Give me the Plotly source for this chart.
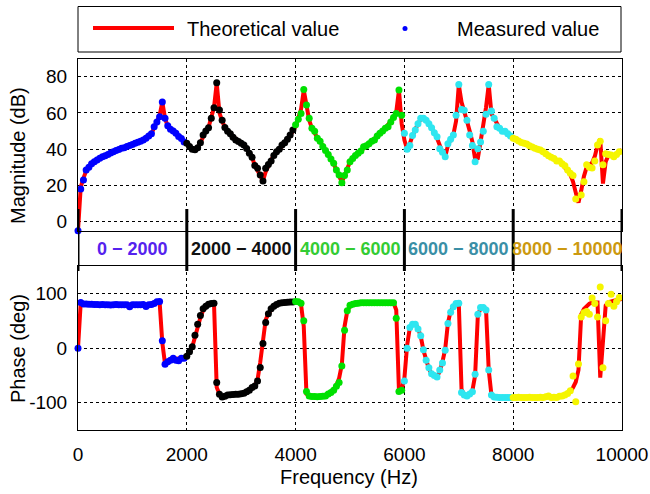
import plotly.graph_objects as go

# ---------------- data ----------------
band_edges = [0, 2000, 4000, 6000, 8000, 10000]
band_labels = ["0 − 2000", "2000 − 4000", "4000 − 6000", "6000 − 8000", "8000 − 10000"]
band_label_colors = ["#5522ee", "#111111", "#33cc33", "#3a8fa6", "#cc9910"]
meas_colors = ["#0000ff", "#000000", "#00e000", "#2ee6f0", "#f5f500"]

step_hz = 50
freq_theory = [i * step_hz for i in range(201)]   # 0 ... 10000 Hz
freq_meas = [i * step_hz for i in range(200)]     # 0 ... 9950 Hz

mag_theory = [
    # 0 - 1950
    -5, 19, 24, 28, 30, 31.8, 33, 34, 35, 35.7, 36.3, 37, 37.8, 38.6, 39.2, 39.8, 40.4, 41, 41.5, 42,
    42.5, 43.2, 43.8, 44.4, 45, 46, 46.8, 48.5, 51.5, 54.5, 58.5, 66, 57, 52.5, 51.2, 50, 48.7, 47.4, 45.9, 44.3,
    # 2000 - 3950
    43, 41.5, 40.2, 39.8, 40.6, 43.5, 47.5, 50, 52, 57, 63, 76.5, 60, 55.5, 52, 50, 48.5, 46.5, 45.3, 44.2,
    43.2, 42, 40.3, 38, 35.5, 31, 28, 25.5, 22.5, 27.5, 31.5, 34, 36.5, 38.6, 40, 41.5, 43.5, 45.5, 47.8, 49.8,
    # 4000 - 5950
    52.5, 56.5, 62, 72.5, 63, 56, 51.5, 48.5, 46.3, 44.3, 42, 39.6, 37.3, 34.6, 32, 28.5, 25, 21.8, 25.5, 29.5,
    33, 34.8, 36.5, 37.7, 39, 40.7, 41.8, 43, 44.3, 45.5, 47.2, 48.7, 50, 51.5, 53.5, 55, 57.5, 60.5, 72.5, 54,
    # 6000 - 7950
    45, 40, 43, 47.5, 51, 54, 56.5, 57, 56.2, 54, 51.8, 49, 46, 42, 38.3, 35.8, 42, 45.5, 48, 55.5,
    75.5, 66, 61.5, 55.5, 50, 44, 34.5, 35, 44, 52.5, 63, 75.5, 59.5, 57, 54, 51.5, 50.5, 49.8, 48.5, 47,
    # 8000 - 10000
    46, 45.3, 44.5, 43.7, 43, 42.5, 41.8, 41, 40.5, 40, 39.3, 38.5, 37.5, 36.5, 35.7, 34.8, 34, 33, 31.5, 30,
    28, 26, 22, 16, 10.5, 17, 25, 30, 31, 32.5, 36, 42, 45.5, 21, 33, 36.5, 37, 36.5, 37.5, 38.5, 39.5,
]

phase_theory = [
    # 0 - 1950
    0, 83, 82, 81.5, 81, 80.5, 80, 80, 79.5, 79.5, 79.5, 79.5, 79.5, 79.5, 79.5, 79.5, 79.5, 79.5, 79.5, 79.5,
    79.5, 79.5, 79.5, 79.5, 79.5, 79.5, 79.5, 80, 81.5, 84, 85, 10, -29, -25, -22, -20.5, -19.5, -19, -18.5, -18,
    # 2000 - 3950
    -15, -7, 2, 20, 40, 56, 69, 76, 80.5, 82, 82.5, -72, -84, -88, -88, -87, -86, -85.5, -85, -84.5,
    -83.5, -82.5, -80.5, -78, -74, -69, -58, -26, 12, 52, 63, 72, 77.5, 80, 82, 83, 83.5, 84, 84.5, 85,
    # 4000 - 5950
    85.5, 85, 80, 40, -84, -87.5, -88.5, -89, -89, -88.5, -88, -86, -83.5, -80, -76, -68, -55, -30, 40, 68,
    77, 80, 81.5, 82.5, 83, 83, 83, 83, 83, 83, 83, 83, 83, 83, 83, 83, 83, 70, -78, -76,
    # 6000 - 7950
    -55, 5, 38, 45, 45, 36, 22, -4, -24, -38, -46.8, -51, -52, -43, -25, -2, 46, 68, 76, 80,
    82, -75, -86, -87.5, -85, -78, -50, 60, 73, 75, 72, -40, -86, -89, -90, -90.5, -90.5, -90.5, -90.5, -90.5,
    # 8000 - 10000
    -90.5, -90.5, -90.5, -90.5, -90.5, -90.5, -90.5, -90.5, -90.5, -90.5, -90.5, -90.5, -90.5, -90, -89.5,
    -89, -88.5, -88, -87, -85.5, -83.5, -80, -72, -62, -40, 62, 72, 78, 81.5, 83.5, 84, 83.5, -54, 5, 78,
    84, 86, 87, 88, 89, 90,
]

mag_meas = [
    # 0 - 1950
    -5, 18, 23, 28.5, 30, 32, 33, 34, 35, 35.8, 36.3, 37, 37.8, 38.6, 39.2, 39.8, 40.5, 40.8, 41.5, 42,
    42.6, 43.2, 43.8, 44.4, 45, 46, 47.3, 48.5, 52.3, 55, 57.9, 66, 57, 52.9, 51, 50, 48.7, 47, 45.8, 44,
    # 2000 - 3950
    43.2, 41.5, 39.9, 39.6, 40.8, 43.5, 47.8, 50, 51.8, 57, 62.8, 76.6, 61.6, 56, 52, 49.8, 48.5, 46.5, 45, 44.2,
    43.2, 42.3, 40.3, 37.7, 35.5, 31, 29.4, 25.7, 22.4, 29.4, 31.5, 33.4, 36.5, 38.6, 40, 42.3, 43.5, 45.5, 47.8, 50.6,
    # 4000 - 5950
    53.4, 56.5, 59.7, 72.9, 64.3, 57, 51.5, 49.8, 46, 44.3, 41.5, 39.2, 37, 34.5, 32.2, 28.5, 25.7, 21.5, 25.5, 28.5,
    33, 34.8, 36.5, 37.7, 39, 41.3, 41.8, 43, 44.3, 45, 47.2, 48.7, 50, 51.5, 52.3, 55, 57.5, 59.7, 72.6, 58.7,
    # 6000 - 7950
    48.7, 40, 42, 47.5, 50.5, 54, 57, 57, 56, 54, 51.8, 49, 46.8, 40.2, 38.3, 35.8, 43, 45.5, 47.8, 58.7,
    75.7, 61.9, 61.5, 56, 47.8, 42, 33.1, 40.2, 44, 49.8, 59.2, 75.7, 61, 57, 52.3, 51.5, 49.8, 49.8, 48.5, 47.3,
    # 8000 - 9950
    46, 45.5, 44.5, 43.7, 43.2, 42.8, 41.8, 41.2, 40.5, 40, 39.5, 38.5, 37.5, 36.4, 35.5, 34.8, 33.5, 33.4, 32, 30.9,
    28.5, 26.7, 25.4, 12.5, -5.5, 14.7, 22, 31.4, 30, 29.6, 33.4, 42.3, 44.4, 31.4, 37.5, 37, 36.7, 35.8, 37, 38.6,
]

phase_meas = [
    # 0 - 1950
    0, 83.7, 81, 81, 80.5, 80.5, 80, 80, 79.5, 80, 79.5, 79.5, 79, 79.5, 80, 79.5, 79.5, 79.5, 79.5, 76,
    79.5, 79.5, 79.5, 79.5, 80, 76.5, 79.5, 80, 82, 85, 85.5, 13.4, -29.4, -25, -22, -18.4, -22, -23, -18.4, -18.4,
    # 2000 - 3950
    -15, -6.8, 2.4, 23.8, 44, 60, 72, 77, 80.6, 82, 82.4, -63, -84.5, -89.3, -88, -86, -85.6, -85, -84.5, -84.5,
    -83.5, -82.7, -80, -77, -72, -69.2, -60, -35.6, 8.4, 47, 63, 72, 77, 80, 82.4, 83, 83.6, 84, 84.8, 84.8,
    # 4000 - 5950
    85.4, 85, 82.4, 50, -79.6, -87.6, -88.5, -88.8, -89, -88.8, -88, -87.6, -84, -81.5, -77, -70, -63, -32.5, 33, 68.4,
    78.7, 80.5, 82, 82.4, 83, 83, 83, 83, 83, 83, 83, 83, 83, 83, 83, 83, 83, 55, -79.6, -77,
    # 6000 - 7950
    -60, 0, 38, 44, 44, 35, 22.6, -3, -22, -36, -46.8, -50, -52.7, -40, -27, -4, 45, 66, 75.7, 81.8,
    82.4, -81.5, -86, -87.6, -84, -80, -48, 62, 74.6, 74.6, 70, -40, -86, -89.3, -90, -90.5, -90.5, -90.5, -90.5, -90.5,
    # 8000 - 9950
    -90.5, -90.5, -90, -90.5, -90.5, -90.5, -90, -90.5, -90.5, -90.5, -90, -90.5, -89, -87.6, -90.5, -90, -90.5, -88, -87.6, -86,
    -83, -78, -51, -98, -29, 57, 65, 67, 62, 92, 82, 57, 112, -36, 50, 82, 99, 77, 85, 93,
]

mag_ticks = [0, 20, 40, 60, 80]
phase_ticks = [-100, 0, 100]
phase_tick_text = ["-100", "0", "100"]
freq_ticks = [0, 2000, 4000, 6000, 8000, 10000]
freq_tick_text = ["0", "2000", "4000", "6000", "8000", "10000"]

# ---------------- geometry ----------------
W, H = 650, 494
L_PX, R_PX = 78, 622          # plot area in page pixels
PW = R_PX - L_PX


def py(p):
    """page y pixel -> paper fraction"""
    return (H - p) / H


def px(p):
    """page x pixel -> paper fraction (plot area)"""
    return (p - L_PX) / PW


FONT = "Liberation Sans, Arial, Helvetica, sans-serif"

fig = go.Figure()

pts_per_band = len(freq_meas) // (len(band_edges) - 1)

for xa, ya, th, me in [("x", "y", mag_theory, mag_meas), ("x2", "y2", phase_theory, phase_meas)]:
    fig.add_trace(go.Scatter(
        x=freq_theory, y=th, mode="lines", xaxis=xa, yaxis=ya,
        line=dict(color="#ff0000", width=4), name="Theoretical value", showlegend=False,
    ))
    for b in range(len(band_edges) - 1):
        s = slice(b * pts_per_band, (b + 1) * pts_per_band)
        fig.add_trace(go.Scatter(
            x=freq_meas[s], y=me[s], mode="markers", xaxis=xa, yaxis=ya,
            marker=dict(color=meas_colors[b], size=7, line=dict(width=0)),
            name="Measured value", showlegend=False, cliponaxis=False,
        ))

axis_common = dict(
    showline=True, mirror=True, linecolor="black", linewidth=1,
    showgrid=True, gridcolor="black", griddash="dot", gridwidth=1,
    zeroline=False, ticks="", tickfont=dict(family=FONT, size=19, color="black"),
)

fig.update_layout(
    width=W, height=H,
    margin=dict(l=L_PX, r=W - R_PX, t=0, b=0, autoexpand=False),
    paper_bgcolor="white", plot_bgcolor="white",
    showlegend=False,
    xaxis=dict(domain=[0, 1], range=[0, 10000], tickvals=freq_ticks, showticklabels=False,
               anchor="y", **axis_common),
    yaxis=dict(domain=[py(230.7), py(58.5)], range=[-5, 90], tickvals=mag_ticks,
               ticklabelstandoff=6, anchor="x", **axis_common),
    xaxis2=dict(domain=[0, 1], range=[0, 10000], tickvals=freq_ticks, ticktext=freq_tick_text,
                anchor="y2", ticklabelstandoff=7, **axis_common),
    yaxis2=dict(domain=[py(430), py(266.3)], range=[-150, 150], tickvals=phase_ticks,
                ticktext=phase_tick_text, ticklabelstandoff=6, anchor="x2", **axis_common),
)

shapes = []
annotations = []

# thick separators across the band strip
for e in band_edges:
    shapes.append(dict(type="line", xref="x", yref="paper", x0=e, x1=e,
                       y0=py(271), y1=py(209), line=dict(color="black", width=3)))

# band labels
for b, lab in enumerate(band_labels):
    annotations.append(dict(
        x=(band_edges[b] + band_edges[b + 1]) / 2, xref="x", y=py(248.5), yref="paper",
        text="<b>" + lab + "</b>", showarrow=False, xanchor="center", yanchor="middle",
        font=dict(family=FONT, size=18, color=band_label_colors[b]),
    ))

# legend (drawn)
shapes.append(dict(type="rect", xref="paper", yref="paper", x0=0, x1=px(621),
                   y0=py(52), y1=py(6.5), line=dict(color="black", width=1), fillcolor="white",
                   layer="below"))
shapes.append(dict(type="line", xref="paper", yref="paper", x0=px(93), x1=px(174),
                   y0=py(28), y1=py(28), line=dict(color="#ff0000", width=4)))
shapes.append(dict(type="circle", xref="paper", yref="paper", x0=px(402.5), x1=px(407.5),
                   y0=py(31), y1=py(26), line=dict(width=0), fillcolor="#0000ff"))
annotations.append(dict(x=px(185), y=py(29.5), xref="paper", yref="paper", text="Theoretical value",
                        showarrow=False, xanchor="left", yanchor="middle",
                        font=dict(family=FONT, size=20, color="black")))
annotations.append(dict(x=px(455), y=py(29.5), xref="paper", yref="paper", text="Measured value",
                        showarrow=False, xanchor="left", yanchor="middle",
                        font=dict(family=FONT, size=20, color="black")))

# axis titles
annotations.append(dict(x=px(18), y=py(156), xref="paper", yref="paper", text="Magnitude (dB)",
                        textangle=-90, showarrow=False, xanchor="center", yanchor="middle",
                        font=dict(family=FONT, size=20, color="black")))
annotations.append(dict(x=px(18), y=py(349), xref="paper", yref="paper", text="Phase (deg)",
                        textangle=-90, showarrow=False, xanchor="center", yanchor="middle",
                        font=dict(family=FONT, size=20, color="black")))
annotations.append(dict(x=px(349), y=py(477), xref="paper", yref="paper", text="Frequency (Hz)",
                        showarrow=False, xanchor="center", yanchor="middle",
                        font=dict(family=FONT, size=20, color="black")))

fig.update_layout(shapes=shapes, annotations=annotations)

# remove the browser's default 8px page margin so the figure sits at (0, 0)
fig.write_html("out.html",
               config={"displayModeBar": False},
               post_script="document.body.style.margin='0px';document.body.style.overflow='hidden';")
